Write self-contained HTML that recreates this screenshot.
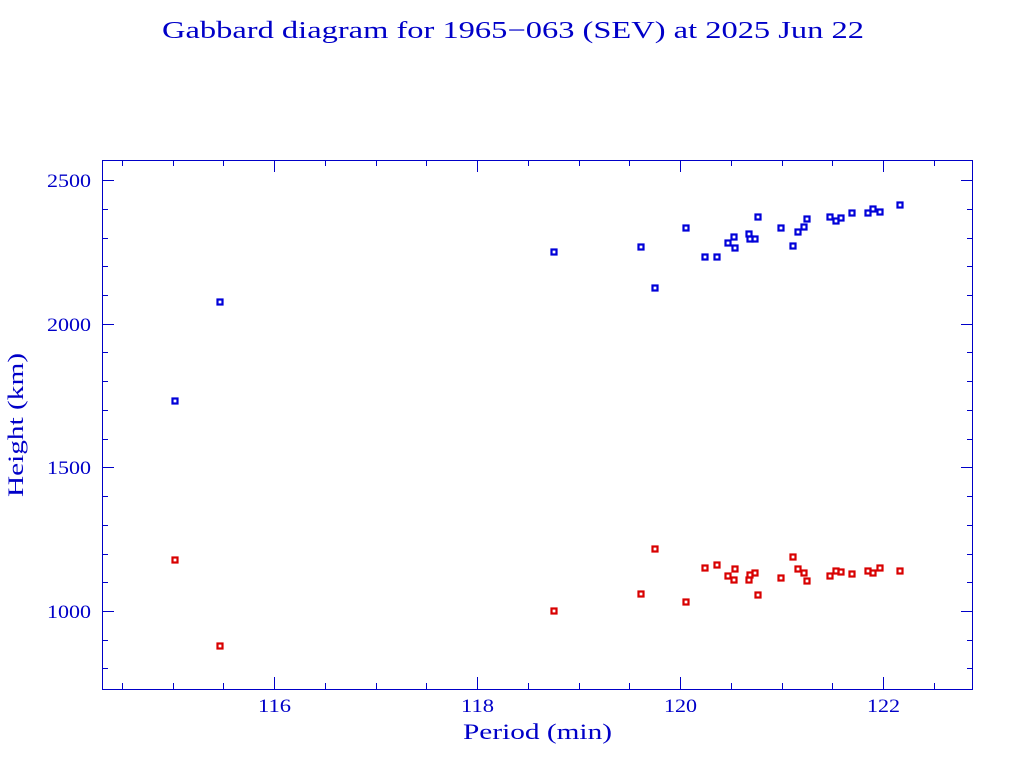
<!DOCTYPE html>
<html><head><meta charset="utf-8"><style>
html,body{margin:0;padding:0;background:#fff;}
svg{display:block;}
text{font-family:"Liberation Serif",serif;fill:#0000c8;}
</style></head><body>
<svg width="1024" height="768" viewBox="0 0 1024 768" xmlns="http://www.w3.org/2000/svg">
<text x="162" y="38" font-size="24" textLength="702" lengthAdjust="spacingAndGlyphs">Gabbard diagram for 1965−063 (SEV) at 2025 Jun 22</text>
<rect x="102.5" y="160.5" width="870" height="529" fill="none" stroke="#0000c8" stroke-width="1"/>
<g id="ticks" stroke="#0000c8" stroke-width="1"></g>
<g font-size="19">
<text x="258" y="712" textLength="33" lengthAdjust="spacingAndGlyphs">116</text><text x="461" y="712" textLength="33" lengthAdjust="spacingAndGlyphs">118</text><text x="664" y="712" textLength="33" lengthAdjust="spacingAndGlyphs">120</text><text x="867" y="712" textLength="33" lengthAdjust="spacingAndGlyphs">122</text>
</g>
<g font-size="19">
<text x="47" y="187" textLength="44" lengthAdjust="spacingAndGlyphs">2500</text><text x="47" y="331" textLength="44" lengthAdjust="spacingAndGlyphs">2000</text><text x="47" y="474" textLength="44" lengthAdjust="spacingAndGlyphs">1500</text><text x="47" y="618" textLength="44" lengthAdjust="spacingAndGlyphs">1000</text>
</g>
<text x="463" y="739" font-size="22" textLength="149" lengthAdjust="spacingAndGlyphs">Period (min)</text>
<text transform="translate(23,497) rotate(-90)" font-size="22" textLength="144" lengthAdjust="spacingAndGlyphs">Height (km)</text>
<g id="pts"></g>
</svg>
<script>
var ns="http://www.w3.org/2000/svg";
var t=document.getElementById("ticks");
function ln(x1,y1,x2,y2){var l=document.createElementNS(ns,"line");l.setAttribute("x1",x1);l.setAttribute("y1",y1);l.setAttribute("x2",x2);l.setAttribute("y2",y2);t.appendChild(l);}
for(var p=114.5;p<=122.9;p+=0.5){var x=Math.round(274+(p-116)*101.5)+0.5;var maj=Math.abs(p-Math.round(p))<0.01&&Math.round(p)%2==0;var L=maj?12:6;ln(x,689,x,689-L);ln(x,160,x,160+L);}
for(var h=800;h<=2500;h+=100){var y=Math.round(611-(h-1000)*0.2873)+0.5;var maj=h%500==0;var L=maj?12:6;ln(102,y,102+L,y);ln(973,y,973-L,y);}
var xs=[175,220,554,641,655,686,705,717,728,734,735,749,750,755,758,781,793,798,804,807,830,836,841,852,868,873,880,900];
var b=[401,302,252,247,288,228,257,257,243,237,248,234,239,239,217,228,246,232,227,219,217,221,218,213,213,209,212,205];
var r=[560,646,611,594,549,602,568,565,576,580,569,580,575,573,595,578,557,569,573,581,576,571,572,574,571,573,568,571];
var g=document.getElementById("pts");
function sq(x,y,c){var e=document.createElementNS(ns,"rect");e.setAttribute("x",x-2.5);e.setAttribute("y",y-2.5);e.setAttribute("width",5);e.setAttribute("height",5);e.setAttribute("fill","none");e.setAttribute("stroke",c);e.setAttribute("stroke-width",2.2);g.appendChild(e);}
for(var i=0;i<xs.length;i++){sq(xs[i],b[i],"#0000d8");sq(xs[i],r[i],"#d80000");}
</script>
</body></html>
